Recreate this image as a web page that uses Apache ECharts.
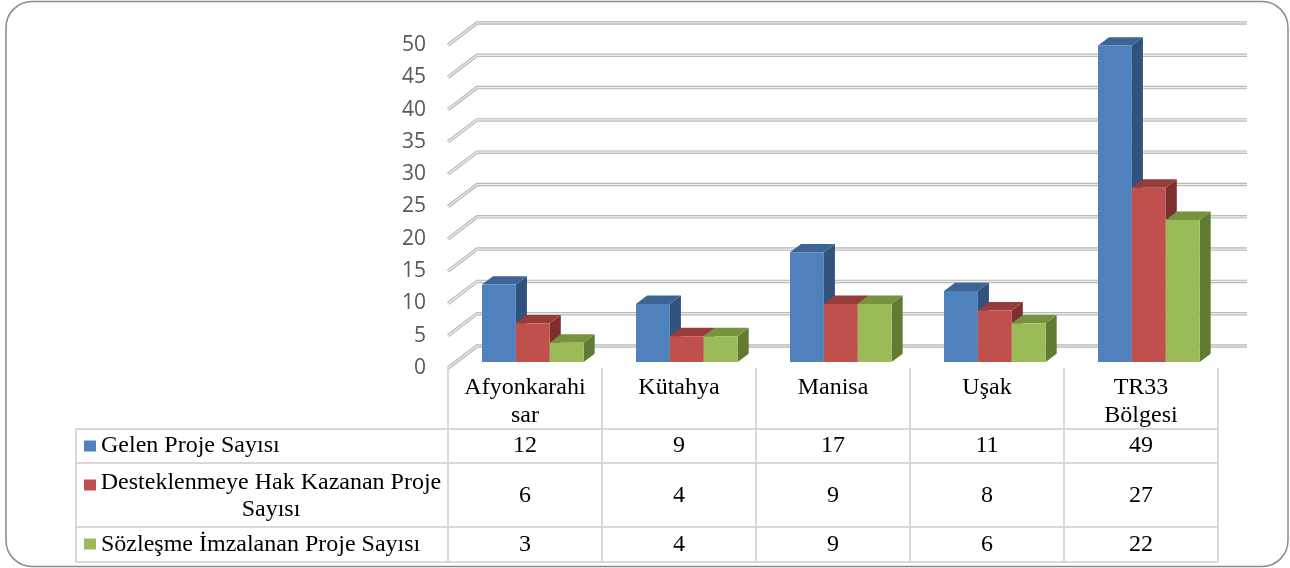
<!DOCTYPE html>
<html>
<head>
<meta charset="utf-8">
<title>Proje Sayıları</title>
<script src="https://cdn.jsdelivr.net/npm/echarts@6/dist/echarts.min.js"></script>
<style>
  html, body { margin: 0; padding: 0; background: #fff; }
  #main { width: 1290px; height: 568px; }
</style>
</head>
<body>
<div id="main"></div>
<script>
// veriler
var categories = ['Afyonkarahi\nsar', 'Kütahya', 'Manisa', 'Uşak', 'TR33\nBölgesi'];
var seriesNames = ['Gelen Proje Sayısı', 'Desteklenmeye Hak Kazanan Proje Sayısı', 'Sözleşme İmzalanan Proje Sayısı'];
var gelen = [12, 9, 17, 11, 49];
var destek = [6, 4, 9, 8, 27];
var sozlesme = [3, 4, 9, 6, 22];
var yTicks = [0, 5, 10, 15, 20, 25, 30, 35, 40, 45, 50];

// renkler: ön yüz, üst, yan
var faceColors = ['#4F81BD', '#C0504D', '#9BBB59'];
var topColors = ['#3C6596', '#983C3A', '#77933D'];
var sideColors = ['#30527D', '#7E2F2D', '#627B32'];

// 3B derinlik (piksel) ve çubukların derinlikteki yeri
var DEPTH = [29, -22];
var BAR_FRONT = 0.27, BAR_BACK = 0.65;

var serifFont = '"Liberation Serif", "Times New Roman", serif';

function gridLines(params, api) {
  var cs = params.coordSys;
  var y = api.coord([0, api.value(1)])[1];
  var pts = [
    [cs.x, y],
    [cs.x + DEPTH[0], y + DEPTH[1]],
    [cs.x + cs.width + DEPTH[0], y + DEPTH[1]]
  ];
  return {
    type: 'group',
    children: [
      { type: 'polyline', shape: { points: pts }, style: { stroke: '#b9b9b9', lineWidth: 3.5, fill: null } },
      { type: 'polyline', shape: { points: pts }, style: { stroke: '#eeeeee', lineWidth: 1.2, fill: null } }
    ]
  };
}

function barItem(s) {
  return function (params, api) {
    var i = api.value(0), v = api.value(1);
    var base = api.coord([i, 0]);
    var top = api.coord([i, v]);
    var band = api.size([1, 0])[0];
    var bw = band * 0.22;
    var ox = DEPTH[0] * BAR_FRONT, oy = DEPTH[1] * BAR_FRONT;
    var dx = DEPTH[0] * (BAR_BACK - BAR_FRONT), dy = DEPTH[1] * (BAR_BACK - BAR_FRONT);
    var xl = base[0] - 1.5 * bw + s * bw + ox, xr = xl + bw;
    var yb = base[1] + oy, yt = top[1] + oy;
    return {
      type: 'group',
      children: [
        { type: 'polygon', shape: { points: [[xr, yt], [xr + dx, yt + dy], [xr + dx, yb + dy], [xr, yb]] },
          style: { fill: sideColors[s] } },
        { type: 'polygon', shape: { points: [[xl, yt], [xr, yt], [xr + dx, yt + dy], [xl + dx, yt + dy]] },
          style: { fill: topColors[s] } },
        { type: 'rect', shape: { x: xl, y: yt, width: bw, height: yb - yt },
          style: { fill: faceColors[s] } }
      ]
    };
  };
}

function valueAxis(values, offset) {
  return {
    type: 'category',
    gridIndex: 0,
    position: 'bottom',
    offset: offset,
    data: categories,
    axisLine: { show: false },
    axisTick: { show: false },
    splitLine: { show: false },
    axisLabel: {
      interval: 0,
      margin: 0,
      fontFamily: serifFont,
      fontSize: 24,
      lineHeight: 28,
      color: '#000',
      formatter: function (val, idx) { return String(values[idx]); }
    }
  };
}

var lineStyle = { stroke: '#d9d9d9', lineWidth: 2 };
var tableLeft = 76, tableRight = 1218;
var rowLines = [429, 463, 527, 562];

var graphics = [
  { type: 'rect', shape: { x: 6, y: 1.5, width: 1282, height: 565, r: 26 },
    style: { fill: null, stroke: '#8a8a8a', lineWidth: 1.5 }, z: 100 },
  { type: 'line', shape: { x1: tableLeft, y1: rowLines[0], x2: tableLeft, y2: rowLines[3] }, style: lineStyle }
];
rowLines.forEach(function (y) {
  graphics.push({ type: 'line', shape: { x1: tableLeft, y1: y, x2: tableRight, y2: y }, style: lineStyle });
});

// tablonun sol sütunu (lejant)
var legendRows = [
  { y: 446, text: seriesNames[0], align: 'left', x: 101 },
  { y: 496, text: 'Desteklenmeye Hak Kazanan Proje\nSayısı', align: 'center', x: 271 },
  { y: 545, text: seriesNames[2], align: 'left', x: 101 }
];
var keyY = [446, 485, 544];
legendRows.forEach(function (r, k) {
  graphics.push({ type: 'rect', shape: { x: 84, y: keyY[k] - 5.5, width: 12, height: 11 },
    style: { fill: faceColors[k] } });
  graphics.push({ type: 'text', x: r.x, y: r.y,
    style: { text: r.text, font: '24px ' + serifFont, fill: '#000',
      align: r.align, verticalAlign: 'middle', lineHeight: 27 } });
});

var option = {
  backgroundColor: '#fff',
  animation: false,
  grid: { left: 448, right: 72, top: 45, bottom: 200 },
  xAxis: [
    {
      type: 'category',
      data: categories,
      boundaryGap: true,
      axisLine: { show: false },
      axisTick: { show: true, interval: 0, length: 194, inside: false, lineStyle: { color: '#d9d9d9', width: 2 } },
      axisLabel: { interval: 0, margin: 6, fontFamily: serifFont, fontSize: 24, lineHeight: 28, color: '#000' },
      splitLine: { show: false }
    },
    valueAxis(gelen, 64),
    valueAxis(destek, 114),
    valueAxis(sozlesme, 163)
  ],
  yAxis: {
    type: 'value',
    min: 0,
    max: 50,
    interval: 5,
    axisLine: { show: false },
    axisTick: { show: false },
    splitLine: { show: false },
    axisLabel: { margin: 22, fontFamily: '"Open Sans", sans-serif', fontSize: 21, color: '#595959' }
  },
  graphic: graphics,
  series: [
    {
      type: 'custom',
      name: 'grid',
      renderItem: gridLines,
      data: yTicks.map(function (t) { return [0, t]; }),
      silent: true,
      z: 1
    },
    { type: 'custom', name: seriesNames[0], renderItem: barItem(0), data: gelen.map(function (v, i) { return [i, v]; }), z: 2 },
    { type: 'custom', name: seriesNames[1], renderItem: barItem(1), data: destek.map(function (v, i) { return [i, v]; }), z: 2 },
    { type: 'custom', name: seriesNames[2], renderItem: barItem(2), data: sozlesme.map(function (v, i) { return [i, v]; }), z: 2 }
  ]
};

var myChart = echarts.init(document.getElementById('main'));
myChart.setOption(option);
</script>
</body>
</html>
